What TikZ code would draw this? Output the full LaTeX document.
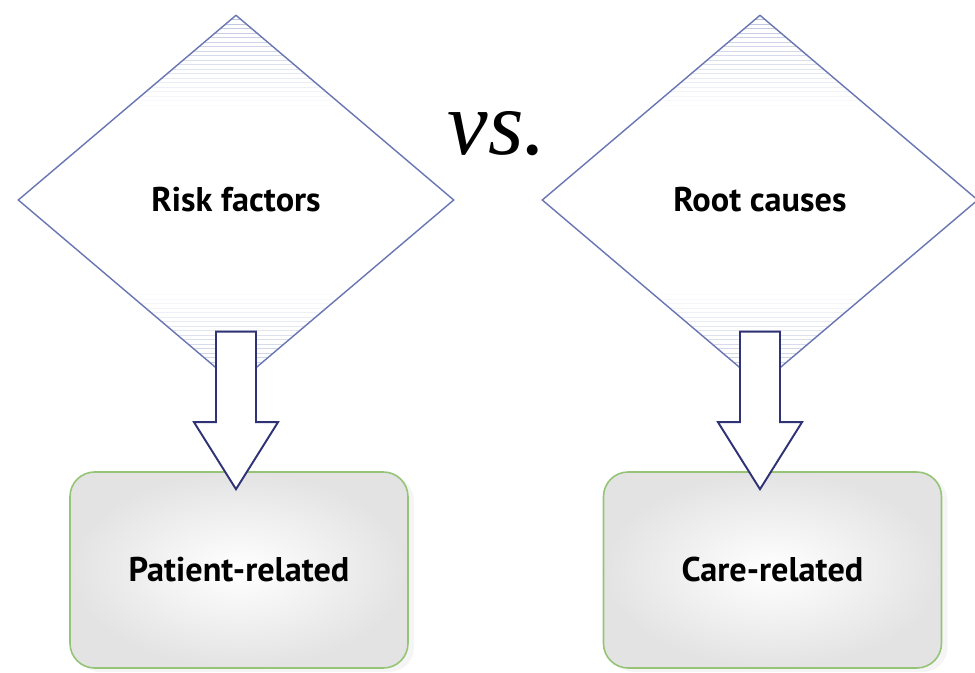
\documentclass[tikz,border=0pt]{standalone}
\usepackage{fontspec}
\setsansfont{PT Sans}
\newfontfamily\vsfont{Liberation Serif}
\usetikzlibrary{shapes.geometric,calc,shadows}

\definecolor{diaedge}{RGB}{105,118,178}
\definecolor{stripecol}{RGB}{186,195,222}
\definecolor{arredge}{RGB}{48,50,118}
\definecolor{boxedge}{RGB}{150,196,118}

\begin{document}
\begin{tikzpicture}[
  choice/.style={diamond, draw=diaedge, line width=0.8pt, fill=white,
    minimum width=8.72cm, minimum height=7.4cm, inner sep=0pt,
    font=\sffamily\bfseries\fontsize{19.5}{22}\selectfont,
    path picture={
      \foreach \i in {0,...,20}{
        \pgfmathsetmacro\op{1-\i/21}
        \draw[stripecol, line width=0.8pt, opacity=\op]
          ([yshift=-\i*0.09cm]path picture bounding box.north west) --
          ([yshift=-\i*0.09cm]path picture bounding box.north east);
        \draw[stripecol, line width=0.8pt, opacity=\op]
          ([yshift=\i*0.09cm]path picture bounding box.south west) --
          ([yshift=\i*0.09cm]path picture bounding box.south east);
      }
    }},
  kind/.style={draw=boxedge, line width=0.9pt, rounded corners=14pt,
    inner color=white, outer color=gray!22,
    minimum width=6.76cm, minimum height=3.92cm,
    drop shadow={opacity=0.08, shadow xshift=0.12cm, shadow yshift=-0.08cm},
    font=\sffamily\bfseries\fontsize{19.5}{22}\selectfont},
  fatarrow/.style={draw=arredge, line width=1.1pt, fill=white, line join=miter}
]
  \useasboundingbox (0,0) rectangle (19.5,13.44);

  \node[choice] (risk) at (4.72, 9.44) {Risk factors};
  \node[choice] (root) at (15.2, 9.44) {Root causes};

  \node[anchor=base, font=\vsfont\itshape\fontsize{52}{56}\selectfont]
    (vs) at (9.94, 10.34) {vs.};

  \node[kind] (patient) at (4.78, 2.04) {Patient-related};
  \node[kind] (care) at (15.45, 2.04) {Care-related};

  \draw[fatarrow] ($(risk.south)+(-0.4,1.08)$) -- ++(0.8,0)
    -- ($(risk.south |- patient.north)+(0.4,0.98)$) -- ++(0.44,0)
    -- ($(risk.south |- patient.north)+(0,-0.36)$) -- ++(-0.84,1.34)
    -- ++(0.44,0) -- cycle;
  \draw[fatarrow] ($(root.south)+(-0.4,1.08)$) -- ++(0.8,0)
    -- ($(root.south |- care.north)+(0.4,0.98)$) -- ++(0.44,0)
    -- ($(root.south |- care.north)+(0,-0.36)$) -- ++(-0.84,1.34)
    -- ++(0.44,0) -- cycle;
\end{tikzpicture}
\end{document}
